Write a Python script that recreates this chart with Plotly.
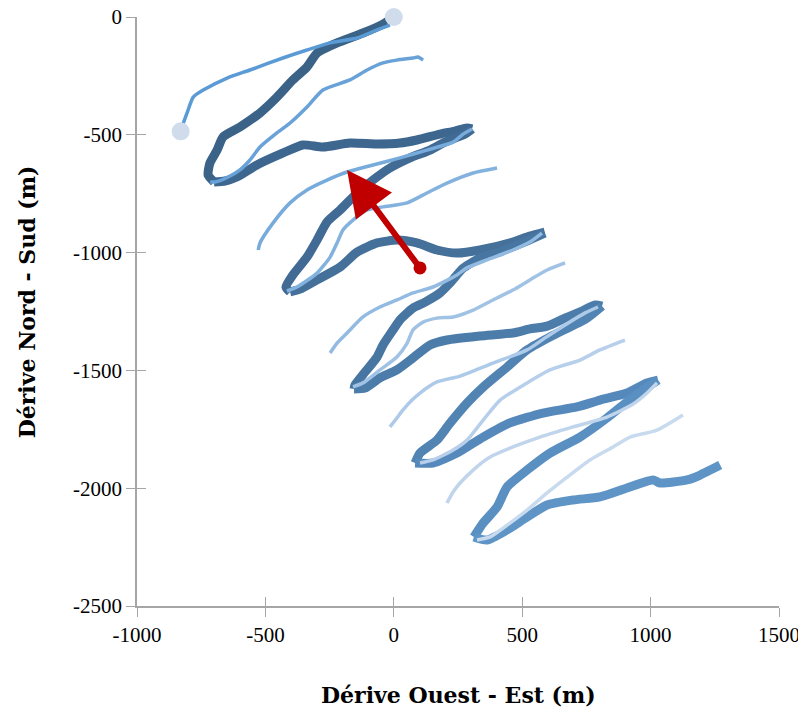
import plotly.graph_objects as go

# ---------------- data (metres) ----------------
# thick trajectory, split in legs (dark -> light)
thick_x = [
    [0, -42, -120, -221, -299, -338, -393, -455, -521, -599, -665, -688, -716, -723, -700],
    [-700, -657, -611, -533, -431, -354, -276, -171, -65, 24, 90, 180, 238, 285, 305],
    [305, 277, 199, 141, 63, -15, -81, -151, -209, -260, -299, -338, -393, -420, -404],
    [-404, -365, -299, -209, -143, -65, 13, 90, 168, 246, 336, 464, 530, 588],
    [588, 491, 413, 336, 270, 219, 180, 122, 75, 24, -3, -42, -65, -112, -151, -155],
    [-155, -112, -54, 12, 75, 141, 207, 336, 464, 530, 597, 667, 725, 784, 811],
    [811, 752, 608, 519, 441, 348, 285, 219, 168, 102, 83],
    [83, 153, 246, 348, 452, 581, 713, 803, 908, 986, 1029],
    [1029, 932, 830, 725, 608, 519, 441, 402, 348, 312],
    [312, 363, 441, 519, 597, 698, 803, 908, 1009, 1037, 1142, 1193, 1271],
]
thick_y = [
    [0, -30, -68, -110, -153, -212, -267, -340, -407, -467, -509, -565, -620, -671, -700],
    [-700, -696, -679, -628, -577, -543, -552, -535, -539, -535, -522, -497, -484, -471, -475],
    [-475, -497, -531, -565, -598, -641, -692, -756, -819, -870, -947, -1019, -1095, -1146, -1167],
    [-1167, -1155, -1116, -1061, -998, -959, -947, -959, -989, -1002, -989, -955, -930, -913],
    [-917, -963, -997, -1023, -1066, -1129, -1171, -1210, -1235, -1286, -1328, -1392, -1443, -1507, -1562, -1579],
    [-1579, -1575, -1532, -1498, -1447, -1392, -1371, -1354, -1341, -1324, -1312, -1278, -1252, -1222, -1227],
    [-1227, -1278, -1358, -1413, -1486, -1571, -1639, -1724, -1796, -1851, -1893],
    [-1893, -1893, -1851, -1783, -1723, -1681, -1655, -1626, -1596, -1553, -1541],
    [-1541, -1613, -1702, -1783, -1851, -1923, -1995, -2080, -2148, -2207],
    [-2207, -2220, -2177, -2122, -2071, -2050, -2037, -1999, -1965, -1978, -1965, -1944, -1902],
]
thick_colors = ["#3b6287", "#3e6790", "#416b94", "#44709a", "#4876a2",
                "#4c7caa", "#5183b3", "#5689bb", "#5a8fc1", "#5e95c6"]

# thin trajectories
thin_x = [
    [-832, -805, -781, -742, -649, -560, -432, -338, -248, -143, -65, -15],
    [114, 94, 75, 12, -42, -104, -171, -276, -338, -404, -455, -521, -560, -599, -645, -696, -715],
    [-528, -521, -470, -404, -338, -260, -182, -81, 24, 129, 231, 270, 305],
    [402, 309, 207, 129, 52, -42, -104, -159, -198, -221, -248, -299, -377, -416],
    [-248, -221, -182, -120, -54, 12, 75, 153, 246, 285, 363, 464, 530, 577],
    [667, 597, 530, 464, 386, 309, 231, 168, 114, 75, 52, 12, -54, -120, -159],
    [-15, 12, 36, 71, 102, 168, 258, 386, 519, 589, 667, 745, 795],
    [900, 803, 725, 608, 519, 414, 348, 285, 231, 153, 102],
    [207, 231, 258, 309, 375, 464, 569, 698, 830, 932, 986, 1025],
    [1126, 1025, 920, 854, 764, 675, 597, 519, 452, 375, 324],
]
thin_y = [
    [-488, -407, -340, -310, -259, -225, -174, -140, -110, -89, -55, -34],
    [-183, -170, -174, -183, -195, -225, -267, -310, -382, -450, -492, -552, -607, -649, -679, -700, -700],
    [-989, -959, -874, -789, -734, -692, -658, -628, -598, -565, -531, -497, -475],
    [-641, -662, -705, -747, -789, -806, -819, -862, -904, -959, -1019, -1087, -1146, -1163],
    [-1426, -1384, -1341, -1273, -1231, -1201, -1171, -1146, -1095, -1065, -1031, -989, -955, -917],
    [-1044, -1074, -1116, -1159, -1201, -1244, -1273, -1278, -1295, -1328, -1384, -1443, -1498, -1553, -1570],
    [-1740, -1702, -1668, -1626, -1596, -1549, -1524, -1469, -1413, -1362, -1307, -1256, -1231],
    [-1371, -1413, -1456, -1498, -1553, -1626, -1711, -1796, -1838, -1880, -1893],
    [-2063, -2016, -1978, -1923, -1868, -1825, -1783, -1740, -1698, -1643, -1596, -1553],
    [-1689, -1753, -1783, -1825, -1880, -1953, -2020, -2093, -2148, -2207, -2220],
]
thin_colors = ["#5b9bd5", "#68a2d8", "#77abdb", "#84b2de", "#93bbe2",
               "#a0c2e5", "#adcae8", "#b7cfea", "#c0d5ec", "#c8daee"]

start_x = [0, -830]
start_y = [0, -485]

arrow_tail = (102, -1065)
arrow_head = (-182, -649)

x_ticks = [-1000, -500, 0, 500, 1000, 1500]
y_ticks = [0, -500, -1000, -1500, -2000, -2500]

x_title = "Dérive Ouest - Est (m)"
y_title = "Dérive Nord - Sud (m)"

# ---------------- figure ----------------
fig = go.Figure()

for xs, ys, c in zip(thick_x, thick_y, thick_colors):
    fig.add_trace(go.Scatter(x=xs, y=ys, mode="lines",
                             line=dict(color=c, width=9, shape="spline", smoothing=0.6),
                             hoverinfo="skip", showlegend=False, cliponaxis=False))

for xs, ys, c in zip(thin_x, thin_y, thin_colors):
    fig.add_trace(go.Scatter(x=xs, y=ys, mode="lines",
                             line=dict(color=c, width=3.5, shape="spline", smoothing=0.6),
                             hoverinfo="skip", showlegend=False, cliponaxis=False))

fig.add_trace(go.Scatter(x=start_x, y=start_y, mode="markers",
                         marker=dict(color="#d0dcec", size=18, line=dict(width=0)),
                         hoverinfo="skip", showlegend=False, cliponaxis=False))

fig.add_trace(go.Scatter(x=[arrow_tail[0]], y=[arrow_tail[1]], mode="markers",
                         marker=dict(color="#c00000", size=13, line=dict(width=0)),
                         hoverinfo="skip", showlegend=False, cliponaxis=False))

fig.add_annotation(x=arrow_head[0], y=arrow_head[1], ax=arrow_tail[0], ay=arrow_tail[1],
                   xref="x", yref="y", axref="x", ayref="y", text="",
                   showarrow=True, arrowhead=2, arrowsize=1.5, arrowwidth=6,
                   arrowcolor="#c00000", standoff=0, startstandoff=0)

# invisible trace on overlay axes (for inside tick half)
fig.add_trace(go.Scatter(x=[None], y=[None], xaxis="x2", yaxis="y2",
                         showlegend=False, hoverinfo="skip"))

tick_font = dict(family="Liberation Serif", size=21, color="#000000")
title_font = dict(family="DejaVu Serif", size=22, color="#000000")
axis_color = "#a6a6a6"

fig.add_annotation(text="<b>%s</b>" % x_title, xref="paper", yref="paper",
                   x=0.5, y=-0.151, xanchor="center", yanchor="middle",
                   showarrow=False, font=title_font)
fig.add_annotation(text="<b>%s</b>" % y_title, xref="paper", yref="paper",
                   x=-0.171, y=0.516, xanchor="center", yanchor="middle",
                   textangle=-90, showarrow=False, font=title_font)

# page body has an 8px margin: canvas is sized so the plot lands where the reference has it
fig.update_layout(
    width=798, height=703,
    margin=dict(l=129, r=27, t=9, b=105),
    paper_bgcolor="white", plot_bgcolor="white",
    font=tick_font,
    xaxis=dict(range=[-1000, 1500], tickvals=x_ticks, ticktext=[str(v) for v in x_ticks],
               showgrid=False, zeroline=False, showline=True, linecolor=axis_color,
               linewidth=1.5, ticks="outside", ticklen=9, tickcolor=axis_color, tickwidth=1.2,
               automargin=False, tickfont=tick_font, ticklabeloverflow="allow"),
    yaxis=dict(range=[-2500, 0], tickvals=y_ticks, ticktext=[str(v) for v in y_ticks],
               showgrid=False, zeroline=False, showline=True, linecolor=axis_color,
               linewidth=1.5, ticks="outside", ticklen=9, tickcolor=axis_color, tickwidth=1.2,
               automargin=False, tickfont=tick_font, ticklabeloverflow="allow"),
    xaxis2=dict(range=[-1000, 1500], tickvals=x_ticks, overlaying="x", anchor="y2",
                showgrid=False, zeroline=False, showline=False, showticklabels=False,
                ticks="inside", ticklen=9, tickcolor=axis_color, tickwidth=1.2, side="bottom",
                automargin=False),
    yaxis2=dict(range=[-2500, 0], tickvals=y_ticks, overlaying="y", anchor="x2",
                showgrid=False, zeroline=False, showline=False, showticklabels=False,
                ticks="inside", ticklen=9, tickcolor=axis_color, tickwidth=1.2, side="left",
                automargin=False),
)

fig.write_html("out.html")
